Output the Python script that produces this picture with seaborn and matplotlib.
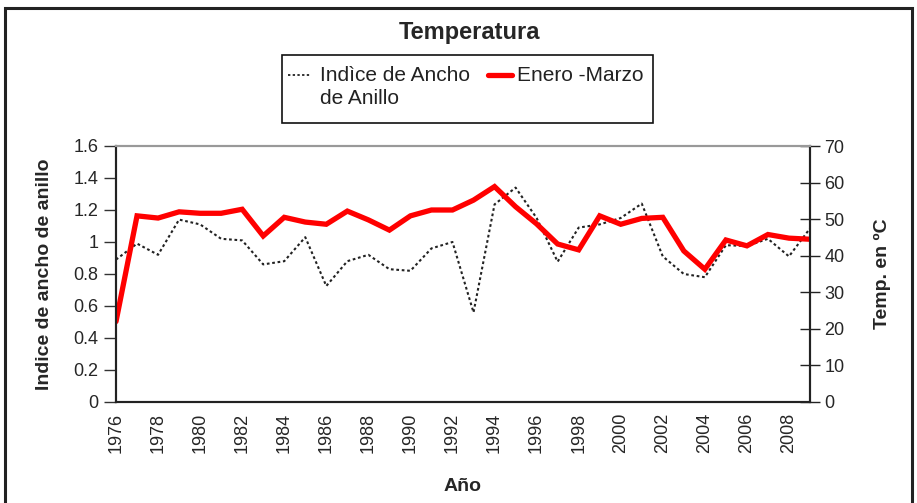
import numpy as np
import pandas as pd
import matplotlib
matplotlib.use('Agg')
import matplotlib.pyplot as plt
from matplotlib.lines import Line2D
from matplotlib.patches import Rectangle
import seaborn as sns

# data
years = list(range(1976, 2010))
indice = [0.89, 0.99, 0.92, 1.14, 1.11, 1.02, 1.01, 0.86, 0.88, 1.03,
          0.725, 0.88, 0.92, 0.83, 0.82, 0.96, 1.00, 0.56, 1.235, 1.34,
          1.15, 0.877, 1.09, 1.11, 1.15, 1.24, 0.91, 0.80, 0.78, 0.98,
          0.975, 1.02, 0.91, 1.085]
temp = [22.0, 50.9, 50.3, 52.0, 51.6, 51.6, 52.7, 45.4, 50.5, 49.2,
        48.6, 52.2, 49.8, 47.0, 50.9, 52.5, 52.5, 55.2, 58.9, 53.4,
        48.7, 43.2, 41.6, 50.9, 48.6, 50.2, 50.5, 41.3, 36.3, 44.3,
        42.7, 45.8, 44.8, 44.5]
labels = ['Indìce de Ancho\nde Anillo', 'Enero -Marzo']

df = pd.DataFrame({'year': years, 'indice': indice, 'temp': temp})

sns.set_style('white')
plt.rcParams['font.family'] = ['Liberation Sans', 'DejaVu Sans']

W, H = 917, 503
fig = plt.figure(figsize=(W/100, H/100), dpi=100)
ax = fig.add_axes([116/W, 1-402/H, 694/W, 256/H])
ax2 = ax.twinx()

dots = (0, (1.3, 1.3))
sns.lineplot(data=df, x='year', y='indice', ax=ax, color='#222222',
             linestyle=dots, linewidth=1.5)
sns.lineplot(data=df, x='year', y='temp', ax=ax2, color='#ff0000',
             linewidth=3.8, solid_joinstyle='miter')

ax.set_xlim(1976, 2009)
ax.set_ylim(0, 1.6)
ax2.set_ylim(0, 70)
ax.set_xticks(range(1976, 2009, 2))
ax.set_xticklabels([str(y) for y in range(1976, 2009, 2)], rotation=90)
ax.set_xticks(range(1977, 2010, 2), minor=True)
ax.set_yticks(np.arange(0, 1.61, 0.2))
ax.set_yticklabels(['0', '0.2', '0.4', '0.6', '0.8', '1', '1.2', '1.4', '1.6'])
ax2.set_yticks(range(0, 71, 10))

ax.tick_params(axis='x', which='both', direction='inout', length=12, width=1,
               labelsize=13, pad=2, color='#222222')
ax.tick_params(axis='y', direction='out', length=9, width=1, labelsize=13,
               color='#333333')
ax2.tick_params(axis='y', direction='inout', length=14, width=1, labelsize=13,
                color='#222222')

for a in (ax, ax2):
    for s in ('left', 'right', 'bottom'):
        a.spines[s].set_color('#222222')
        a.spines[s].set_linewidth(1.5)
    a.spines['top'].set_color('#999999')
    a.spines['top'].set_linewidth(1.5)

ax.set_xlabel('Año', fontsize=14, fontweight='bold')
ax.xaxis.set_label_coords(0.5, -0.297)
ax.set_ylabel('Indice de ancho de anillo', fontsize=14, fontweight='bold')
ax.yaxis.set_label_coords(-0.091, 0.5)
ax2.set_ylabel('Temp. en ºC', fontsize=14, fontweight='bold')
ax2.yaxis.set_label_coords(1.092, 0.5)

fig.text(470/W, 1-32/H, 'Temperatura', fontsize=17, fontweight='bold',
         ha='center', va='center')

# legend box drawn by hand so the handles sit on the first text line
fig.patches.append(Rectangle((282/W, 1-123/H), 371/W, 68/H,
                             transform=fig.transFigure, fill=False,
                             edgecolor='#111111', linewidth=1.2))
fig.lines.append(Line2D([288/W, 311/W], [1-75/H, 1-75/H], transform=fig.transFigure,
                        color='#222222', linestyle=dots, linewidth=1.3))
fig.lines.append(Line2D([488/W, 512/W], [1-75/H, 1-75/H], transform=fig.transFigure,
                        color='#ff0000', linewidth=3.8))
fig.text(320/W, 1-66/H, labels[0], fontsize=15, ha='left', va='top',
         linespacing=1.3, color='#222222')
fig.text(517/W, 1-66/H, labels[1], fontsize=15, ha='left', va='top',
         color='#222222')

fig.patches.append(Rectangle((5/W, -0.05), 907/W, 1.05 - 8/H,
                             transform=fig.transFigure, fill=False,
                             edgecolor='#222222', linewidth=2.2))

fig.savefig('out.png', dpi=100)
